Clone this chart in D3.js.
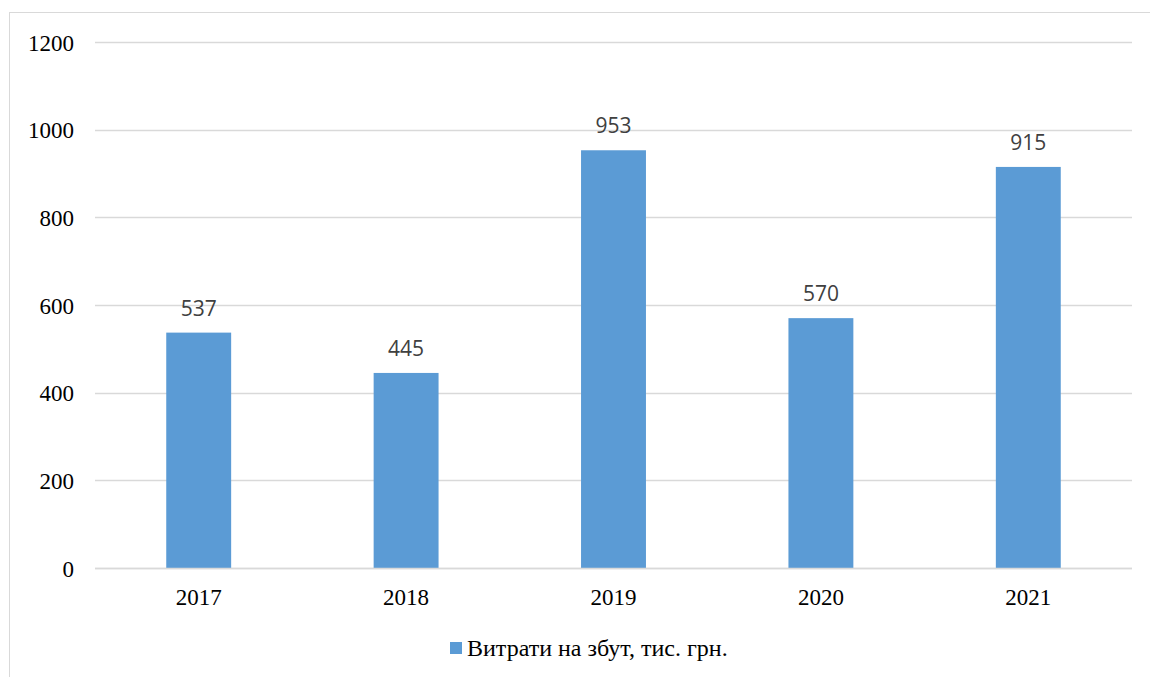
<!DOCTYPE html>
<html>
<head>
<meta charset="utf-8">
<script src="https://cdn.jsdelivr.net/npm/d3@7"></script>
<style>
  html, body { margin: 0; padding: 0; background: #fff; }
  svg { display: block; }
</style>
</head>
<body>
<svg id="chart" width="1150" height="677"></svg>
<script>
// Sales expenses by year, thousand UAH
const years = ["2017", "2018", "2019", "2020", "2021"];
const values = [537, 445, 953, 570, 915];
const yTicks = [0, 200, 400, 600, 800, 1000, 1200];
const seriesName = "Витрати на збут, тис. грн.";

const svg = d3.select("#chart");
const plotLeft = 95, plotRight = 1132, plotTop = 42, plotBottom = 568;
const serif = "'Liberation Serif', 'Times New Roman', serif";

// outer chart frame (extends past the right and bottom edges)
svg.append("rect")
  .attr("x", 9.5).attr("y", 12.5)
  .attr("width", 1160).attr("height", 700)
  .attr("fill", "none").attr("stroke", "#d9d9d9").attr("stroke-width", 1);

const x = d3.scaleBand().domain(years).range([plotLeft, plotRight]).paddingInner(0.687).paddingOuter(0.3435);
const y = d3.scaleLinear().domain([0, 1200]).range([plotBottom, plotTop]);

// gridlines
svg.append("g").selectAll("line").data(yTicks).join("line")
  .attr("x1", plotLeft).attr("x2", plotRight)
  .attr("y1", d => Math.round(y(d)) + 0.5).attr("y2", d => Math.round(y(d)) + 0.5)
  .attr("stroke", "#d9d9d9").attr("stroke-width", 1.3);

// y axis labels
const yAxis = d3.axisLeft(y).tickValues(yTicks).tickFormat(d3.format("d")).tickSize(0).tickPadding(0);
svg.append("g").attr("transform", `translate(${plotLeft - 21},0)`).call(yAxis)
  .call(g => g.select(".domain").remove())
  .selectAll("text")
  .attr("font-family", serif)
  .attr("font-size", 23).attr("fill", "#000").attr("dy", "0.35em");

// bars
svg.append("g").selectAll("rect").data(values).join("rect")
  .attr("x", (d, i) => x(years[i]))
  .attr("width", x.bandwidth())
  .attr("y", d => y(d))
  .attr("height", d => y(0) - y(d))
  .attr("fill", "#5b9bd5");

// baseline
svg.append("line")
  .attr("x1", plotLeft).attr("x2", plotRight)
  .attr("y1", y(0) + 0.5).attr("y2", y(0) + 0.5)
  .attr("stroke", "#d9d9d9").attr("stroke-width", 1.5);

// value labels
svg.append("g").selectAll("text").data(values).join("text")
  .attr("x", (d, i) => x(years[i]) + x.bandwidth() / 2)
  .attr("y", d => y(d) - 17)
  .attr("text-anchor", "middle")
  .attr("font-family", "'Open Sans', 'Noto Sans', sans-serif")
  .attr("font-size", 21).attr("fill", "#404040")
  .text(d => d);

// x axis labels
const xAxis = d3.axisBottom(x).tickSize(0).tickPadding(0);
svg.append("g").attr("transform", `translate(0,605)`).call(xAxis)
  .call(g => g.select(".domain").remove())
  .selectAll("text")
  .attr("font-family", serif)
  .attr("font-size", 23).attr("fill", "#000").attr("dy", "0");

// legend
const lg = svg.append("g").attr("transform", "translate(450,642)");
lg.append("rect").attr("width", 12).attr("height", 12).attr("fill", "#5b9bd5");
lg.append("text").attr("x", 17).attr("y", 14)
  .attr("font-family", serif)
  .attr("font-size", 24).attr("fill", "#000")
  .text(seriesName);
</script>
</body>
</html>
